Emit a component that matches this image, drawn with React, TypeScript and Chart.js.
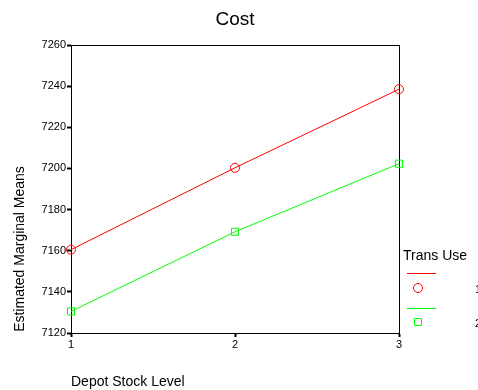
import React, { useEffect, useRef } from "react";
import { Chart, registerables } from "chart.js";

Chart.register(...registerables);

const categories = ["1", "2", "3"];
const transUse1 = [7160.5, 7200.3, 7238.5];
const transUse2 = [7130.5, 7169.2, 7202.3];
const seriesLabels = ["1", "2"];
const yMin = 7120;
const yMax = 7260;
const yStep = 20;

const FONT = "Arial, 'Liberation Sans', sans-serif";
const COLORS = ["#ff0000", "#00ff00"];

const decorPlugin = {
  id: "decor",
  beforeDatasetsDraw(chart: any) {
    const { ctx, chartArea } = chart;
    ctx.save();
    ctx.strokeStyle = "#000";
    ctx.lineWidth = 1;
    ctx.strokeRect(chartArea.left + 0.5, chartArea.top + 0.5, chartArea.right - chartArea.left, chartArea.bottom - chartArea.top);
    ctx.restore();
  },
  afterDraw(chart: any) {
    const { ctx, chartArea } = chart;
    ctx.save();
    ctx.fillStyle = "#000";
    ctx.font = `19px ${FONT}`;
    ctx.textAlign = "center";
    ctx.textBaseline = "middle";
    ctx.fillText("Cost", 235, 20);
    ctx.font = `14px ${FONT}`;
    ctx.save();
    ctx.translate(20, 249);
    ctx.rotate(-Math.PI / 2);
    ctx.fillText("Estimated Marginal Means", 0, 0);
    ctx.restore();
    ctx.textAlign = "left";
    ctx.fillText("Depot Stock Level", chartArea.left, 382);
    const lx = chartArea.right + 4;
    ctx.fillText("Trans Use", lx, 256);
    const baseY = [273, 308];
    COLORS.forEach((c, i) => {
      const y = baseY[i];
      ctx.fillStyle = c;
      ctx.fillRect(lx + 4, y, 29, 1);
      ctx.strokeStyle = c;
      ctx.lineWidth = 1;
      const my = y + (i === 0 ? 15 : 14);
      ctx.beginPath();
      if (i === 0) {
        ctx.arc(lx + 15, my, 4.5, 0, Math.PI * 2);
      } else {
        ctx.rect(lx + 11.5, my - 3.5, 7, 7);
      }
      ctx.stroke();
      ctx.fillStyle = "#000";
      ctx.font = `11px ${FONT}`;
      ctx.fillText(seriesLabels[i], 475, my + 2);
    });
    ctx.restore();
  },
};

export default function App() {
  const ref = useRef<HTMLCanvasElement>(null);
  useEffect(() => {
    if (!ref.current) return;
    const chart = new Chart(ref.current, {
      type: "line",
      data: {
        labels: categories,
        datasets: [
          {
            label: seriesLabels[0],
            data: transUse1,
            borderColor: COLORS[0],
            borderWidth: 1,
            pointStyle: "circle",
            pointRadius: 4.5,
            pointBorderColor: COLORS[0],
            pointBackgroundColor: "transparent",
            pointBorderWidth: 1,
            tension: 0,
          },
          {
            label: seriesLabels[1],
            data: transUse2,
            borderColor: COLORS[1],
            borderWidth: 1,
            pointStyle: "rect",
            pointRadius: 5,
            pointBorderColor: COLORS[1],
            pointBackgroundColor: "transparent",
            pointBorderWidth: 1,
            tension: 0,
          },
        ],
      },
      options: {
        animation: false,
        responsive: false,
        devicePixelRatio: 1,
        clip: false as any,
        layout: { padding: { left: 0, right: 79, top: 45, bottom: 0 } },
        plugins: {
          legend: { display: false },
          title: { display: false },
          tooltip: { enabled: false },
        },
        scales: {
          x: {
            type: "category",
            offset: false,
            grid: {
              display: true,
              drawOnChartArea: false,
              drawTicks: true,
              tickLength: 4,
              tickColor: "#000",
              tickWidth: 2,
            },
            border: { color: "#000", width: 1 },
            ticks: { color: "#000", font: { family: FONT, size: 11 }, padding: 1, maxRotation: 0 },
            afterFit(scale: any) {
              scale.height = 57;
            },
          },
          y: {
            min: yMin,
            max: yMax,
            grid: {
              display: true,
              drawOnChartArea: false,
              drawTicks: true,
              tickLength: 4,
              tickColor: "#000",
              tickWidth: 2,
            },
            border: { color: "#000", width: 1 },
            ticks: {
              stepSize: yStep,
              color: "#000",
              font: { family: FONT, size: 11 },
              padding: 1,
              callback: (v: any) => String(v),
            },
            afterFit(scale: any) {
              scale.width = 71;
            },
          },
        },
      } as any,
      plugins: [decorPlugin],
    });
    return () => chart.destroy();
  }, []);
  return (
    <div style={{ position: "fixed", left: 0, top: 0, width: 478, height: 390, background: "#fff" }}>
      <canvas ref={ref} width={478} height={390} style={{ width: 478, height: 390, display: "block" }} />
    </div>
  );
}
